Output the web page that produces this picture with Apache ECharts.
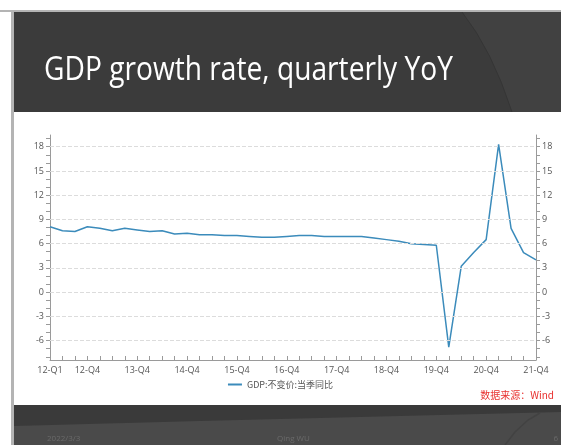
<!DOCTYPE html>
<html>
<head>
<meta charset="utf-8">
<script src="https://cdn.jsdelivr.net/npm/echarts@6/dist/echarts.min.js"></script>
<style>html,body{margin:0;padding:0;background:#fff;}#c{width:561px;height:445px;}</style>
</head>
<body>
<div id="c"></div>
<script>
// ---- data ----
const quarters = [
  '12-Q1','12-Q2','12-Q3','12-Q4','13-Q1','13-Q2','13-Q3','13-Q4',
  '14-Q1','14-Q2','14-Q3','14-Q4','15-Q1','15-Q2','15-Q3','15-Q4',
  '16-Q1','16-Q2','16-Q3','16-Q4','17-Q1','17-Q2','17-Q3','17-Q4',
  '18-Q1','18-Q2','18-Q3','18-Q4','19-Q1','19-Q2','19-Q3','19-Q4',
  '20-Q1','20-Q2','20-Q3','20-Q4','21-Q1','21-Q2','21-Q3','21-Q4'
];
const gdpYoY = [
  8.1, 7.6, 7.5, 8.1, 7.9, 7.6, 7.9, 7.7,
  7.5, 7.6, 7.2, 7.3, 7.1, 7.1, 7.0, 7.0,
  6.9, 6.8, 6.8, 6.9, 7.0, 7.0, 6.9, 6.9,
  6.9, 6.9, 6.7, 6.5, 6.3, 6.0, 5.9, 5.8,
  -6.8, 3.2, 4.9, 6.5, 18.3, 7.9, 4.9, 4.0
];
const yLabelValues = [-6, -3, 0, 3, 6, 9, 12, 15, 18];
const yTickValues = [-8,-7,-6,-5,-4,-3,-2,-1,0,1,2,3,4,5,6,7,8,9,10,11,12,13,14,15,16,17,18,19];
const seriesName = 'GDP:不变价:当季同比';
const titleText = 'GDP growth rate, quarterly YoY';
const sourceText = '数据来源：Wind';
const footerDate = '2022/3/3';
const footerAuthor = 'Qing WU';
const footerPage = '6';

const chart = echarts.init(document.getElementById('c'), null, {renderer: 'canvas'});
const axisFont = {fontFamily: 'Open Sans', fontSize: 9, color: '#555'};

function yAxisCfg(pos) {
  return {
    type: 'value', position: pos, min: -8.4, max: 19.45,
    axisLine: {show: true, lineStyle: {color: '#9a9a9a', width: 1}},
    axisTick: {show: true, length: 4, customValues: yTickValues, lineStyle: {color: '#9a9a9a'}},
    axisLabel: Object.assign({customValues: yLabelValues, margin: 6}, axisFont),
    splitLine: {show: false}
  };
}

const curveTop = [[462,12],[476.4,32.5],[489.5,56],[501.4,82.5],[512,112]];

chart.setOption({
  animation: false,
  backgroundColor: '#ffffff',
  graphic: [
    {type: 'rect', shape: {x: 0, y: 10, width: 561, height: 2}, style: {fill: '#b4b4b4'}, z: 0},
    {type: 'rect', shape: {x: 11, y: 10, width: 3, height: 435}, style: {fill: '#b4b4b4'}, z: 0},
    {type: 'rect', shape: {x: 14, y: 12, width: 547, height: 100}, style: {fill: '#3b3b3b'}, z: 0},
    {type: 'polygon', shape: {points: curveTop.concat([[561,112],[561,12]])}, style: {fill: '#414141'}, z: 0},
    {type: 'polyline', shape: {points: curveTop}, style: {stroke: '#353535', lineWidth: 1}, z: 0},
    {type: 'rect', shape: {x: 14, y: 405, width: 547, height: 40}, style: {fill: '#4a4a4a'}, z: 0},
    {type: 'polygon', shape: {points: [[14,405],[561,405],[561,412],[400,416],[200,421],[14,426]]}, style: {fill: '#3a3a3a'}, z: 0},
    {type: 'polyline', shape: {points: [[505,445],[515,432],[528,420],[540,413]]}, style: {stroke: '#424242', lineWidth: 1.5}, z: 0},
    {type: 'text', x: 44, y: 87, scaleX: 0.88, style: {text: titleText, fill: '#ffffff', font: '32px "Open Sans"', textVerticalAlign: 'bottom'}, z: 10},
    {type: 'text', x: 554, y: 395, style: {text: sourceText, fill: '#e8312f', font: '10px "Noto Sans CJK SC"', textAlign: 'right', textVerticalAlign: 'middle'}, z: 10},
    {type: 'text', x: 47, y: 439, style: {text: footerDate, fill: '#6a6a6a', font: '8px "Open Sans"', textVerticalAlign: 'middle'}, z: 10},
    {type: 'text', x: 277, y: 439, style: {text: footerAuthor, fill: '#6a6a6a', font: '8px "Open Sans"', textVerticalAlign: 'middle'}, z: 10},
    {type: 'text', x: 558, y: 439, style: {text: footerPage, fill: '#6a6a6a', font: '8px "Open Sans"', textAlign: 'right', textVerticalAlign: 'middle'}, z: 10}
  ],
  legend: {
    data: [seriesName], bottom: 51, left: 'center',
    icon: 'rect', itemWidth: 14, itemHeight: 2, itemGap: 4,
    textStyle: {fontFamily: 'Noto Sans CJK SC', fontSize: 9, color: '#555'}
  },
  grid: {left: 50, right: 25, top: 135, height: 225, containLabel: false},
  xAxis: {
    type: 'category', data: quarters, boundaryGap: false,
    axisLine: {onZero: false, lineStyle: {color: '#9a9a9a'}},
    axisTick: {show: true, inside: true, length: 4, interval: 0, lineStyle: {color: '#9a9a9a'}},
    axisLabel: Object.assign({interval: (i) => i === 0 || (i + 1) % 4 === 0, margin: 6, showMaxLabel: true}, axisFont),
    splitLine: {show: false}
  },
  yAxis: [yAxisCfg('left'), yAxisCfg('right')],
  series: [{
    name: seriesName, type: 'line', data: gdpYoY, showSymbol: false, symbol: 'none',
    lineStyle: {color: '#3b8bbb', width: 1.5}, itemStyle: {color: '#3b8bbb'},
    markLine: {
      silent: true, symbol: 'none', label: {show: false},
      lineStyle: {color: '#dcdcdc', type: 'dashed', width: 1},
      data: yLabelValues.map(v => ({yAxis: v}))
    }
  }]
});
</script>
</body>
</html>
